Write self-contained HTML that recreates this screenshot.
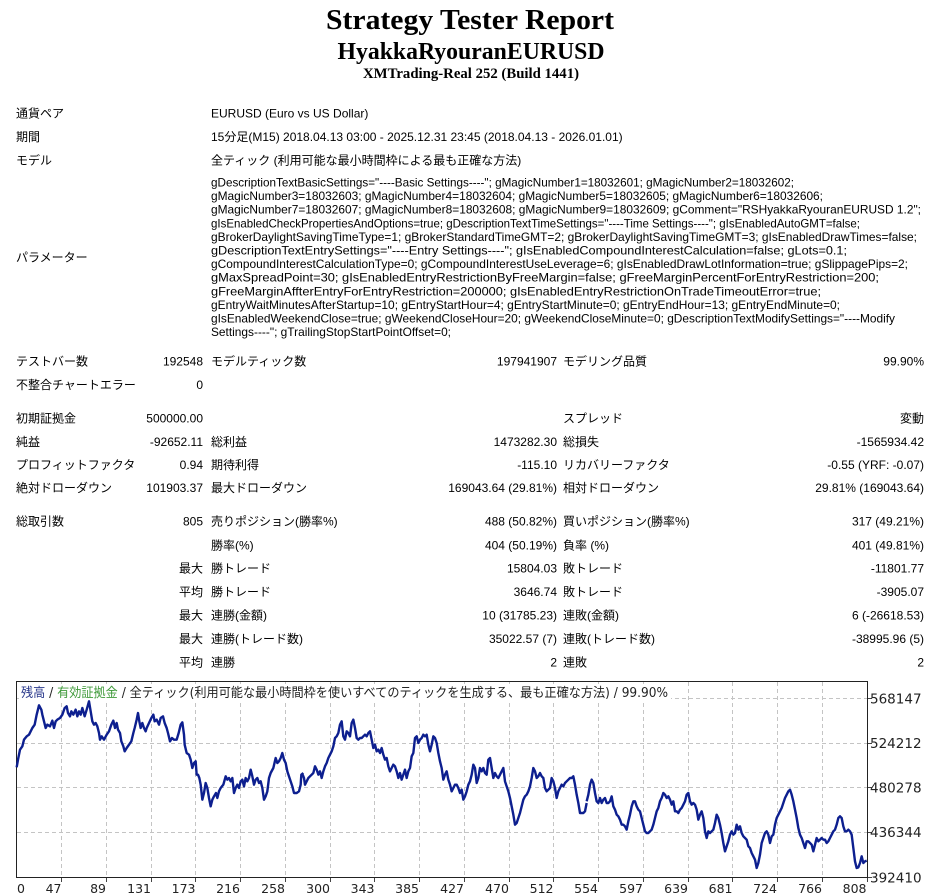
<!DOCTYPE html>
<html><head><meta charset="utf-8"><style>
html,body{margin:0;padding:0;background:#fff;}
svg{display:block;}
.t{font-family:"Liberation Sans","Noto Sans CJK JP",sans-serif;font-size:12px;fill:#000;}
.h{font-family:"Liberation Serif","Noto Serif CJK SC",serif;font-weight:bold;fill:#000;}
.c{font-family:"DejaVu Sans","Noto Sans CJK JP",sans-serif;fill:#222;}
</style></head><body>
<svg width="940" height="895" viewBox="0 0 940 895" xmlns="http://www.w3.org/2000/svg">
<rect x="0" y="0" width="940" height="895" fill="#fff"/>
<text class="h" x="470" y="29" font-size="29" text-anchor="middle" textLength="288" lengthAdjust="spacingAndGlyphs">Strategy Tester Report</text>
<text class="h" x="471" y="59" font-size="24" text-anchor="middle" textLength="267" lengthAdjust="spacingAndGlyphs">HyakkaRyouranEURUSD</text>
<text class="h" x="471" y="78" font-size="15" text-anchor="middle" textLength="216" lengthAdjust="spacingAndGlyphs">XMTrading-Real 252 (Build 1441)</text>

<g class="t">
<text x="16" y="117.5">通貨ペア</text><text x="211" y="117.5">EURUSD (Euro vs US Dollar)</text>
<text x="16" y="141">期間</text><text x="211" y="141">15分足(M15) 2018.04.13 03:00 - 2025.12.31 23:45 (2018.04.13 - 2026.01.01)</text>
<text x="16" y="164.5">モデル</text><text x="211" y="164.5">全ティック (利用可能な最小時間枠による最も正確な方法)</text>

<text x="16" y="261.5">パラメーター</text>
<text x="211" y="186.5" textLength="583" lengthAdjust="spacingAndGlyphs">gDescriptionTextBasicSettings="----Basic Settings----"; gMagicNumber1=18032601; gMagicNumber2=18032602;</text>
<text x="211" y="200.1" textLength="612" lengthAdjust="spacingAndGlyphs">gMagicNumber3=18032603; gMagicNumber4=18032604; gMagicNumber5=18032605; gMagicNumber6=18032606;</text>
<text x="211" y="213.7" textLength="710" lengthAdjust="spacingAndGlyphs">gMagicNumber7=18032607; gMagicNumber8=18032608; gMagicNumber9=18032609; gComment="RSHyakkaRyouranEURUSD 1.2";</text>
<text x="211" y="227.3" textLength="649" lengthAdjust="spacingAndGlyphs">gIsEnabledCheckPropertiesAndOptions=true; gDescriptionTextTimeSettings="----Time Settings----"; gIsEnabledAutoGMT=false;</text>
<text x="211" y="240.9" textLength="706" lengthAdjust="spacingAndGlyphs">gBrokerDaylightSavingTimeType=1; gBrokerStandardTimeGMT=2; gBrokerDaylightSavingTimeGMT=3; gIsEnabledDrawTimes=false;</text>
<text x="211" y="254.5" textLength="636" lengthAdjust="spacingAndGlyphs">gDescriptionTextEntrySettings="----Entry Settings----"; gIsEnabledCompoundInterestCalculation=false; gLots=0.1;</text>
<text x="211" y="268.1" textLength="697" lengthAdjust="spacingAndGlyphs">gCompoundInterestCalculationType=0; gCompoundInterestUseLeverage=6; gIsEnabledDrawLotInformation=true; gSlippagePips=2;</text>
<text x="211" y="281.7" textLength="668" lengthAdjust="spacingAndGlyphs">gMaxSpreadPoint=30; gIsEnabledEntryRestrictionByFreeMargin=false; gFreeMarginPercentForEntryRestriction=200;</text>
<text x="211" y="295.3" textLength="610" lengthAdjust="spacingAndGlyphs">gFreeMarginAffterEntryForEntryRestriction=200000; gIsEnabledEntryRestrictionOnTradeTimeoutError=true;</text>
<text x="211" y="308.9" textLength="629" lengthAdjust="spacingAndGlyphs">gEntryWaitMinutesAfterStartup=10; gEntryStartHour=4; gEntryStartMinute=0; gEntryEndHour=13; gEntryEndMinute=0;</text>
<text x="211" y="322.5" textLength="684" lengthAdjust="spacingAndGlyphs">gIsEnabledWeekendClose=true; gWeekendCloseHour=20; gWeekendCloseMinute=0; gDescriptionTextModifySettings="----Modify</text>
<text x="211" y="336.1" textLength="240" lengthAdjust="spacingAndGlyphs">Settings----"; gTrailingStopStartPointOffset=0;</text>

<text x="16" y="365.5">テストバー数</text><text x="203" y="365.5" text-anchor="end">192548</text>
<text x="211" y="365.5">モデルティック数</text><text x="557" y="365.5" text-anchor="end">197941907</text>
<text x="563" y="365.5">モデリング品質</text><text x="924" y="365.5" text-anchor="end">99.90%</text>

<text x="16" y="389">不整合チャートエラー</text><text x="203" y="389" text-anchor="end">0</text>

<text x="16" y="422.5">初期証拠金</text><text x="203" y="422.5" text-anchor="end">500000.00</text>
<text x="563" y="422.5">スプレッド</text><text x="924" y="422.5" text-anchor="end">変動</text>

<text x="16" y="446">純益</text><text x="203" y="446" text-anchor="end">-92652.11</text>
<text x="211" y="446">総利益</text><text x="557" y="446" text-anchor="end">1473282.30</text>
<text x="563" y="446">総損失</text><text x="924" y="446" text-anchor="end">-1565934.42</text>

<text x="16" y="469">プロフィットファクタ</text><text x="203" y="469" text-anchor="end">0.94</text>
<text x="211" y="469">期待利得</text><text x="557" y="469" text-anchor="end">-115.10</text>
<text x="563" y="469">リカバリーファクタ</text><text x="924" y="469" text-anchor="end">-0.55 (YRF: -0.07)</text>

<text x="16" y="492">絶対ドローダウン</text><text x="203" y="492" text-anchor="end">101903.37</text>
<text x="211" y="492">最大ドローダウン</text><text x="557" y="492" text-anchor="end">169043.64 (29.81%)</text>
<text x="563" y="492">相対ドローダウン</text><text x="924" y="492" text-anchor="end">29.81% (169043.64)</text>

<text x="16" y="525.5">総取引数</text><text x="203" y="525.5" text-anchor="end">805</text>
<text x="211" y="525.5">売りポジション(勝率%)</text><text x="557" y="525.5" text-anchor="end">488 (50.82%)</text>
<text x="563" y="525.5">買いポジション(勝率%)</text><text x="924" y="525.5" text-anchor="end">317 (49.21%)</text>

<text x="211" y="549.5">勝率(%)</text><text x="557" y="549.5" text-anchor="end">404 (50.19%)</text>
<text x="563" y="549.5">負率 (%)</text><text x="924" y="549.5" text-anchor="end">401 (49.81%)</text>

<text x="203" y="572.5" text-anchor="end">最大</text>
<text x="211" y="572.5">勝トレード</text><text x="557" y="572.5" text-anchor="end">15804.03</text>
<text x="563" y="572.5">敗トレード</text><text x="924" y="572.5" text-anchor="end">-11801.77</text>

<text x="203" y="596" text-anchor="end">平均</text>
<text x="211" y="596">勝トレード</text><text x="557" y="596" text-anchor="end">3646.74</text>
<text x="563" y="596">敗トレード</text><text x="924" y="596" text-anchor="end">-3905.07</text>

<text x="203" y="619.5" text-anchor="end">最大</text>
<text x="211" y="619.5">連勝(金額)</text><text x="557" y="619.5" text-anchor="end">10 (31785.23)</text>
<text x="563" y="619.5">連敗(金額)</text><text x="924" y="619.5" text-anchor="end">6 (-26618.53)</text>

<text x="203" y="643" text-anchor="end">最大</text>
<text x="211" y="643">連勝(トレード数)</text><text x="557" y="643" text-anchor="end">35022.57 (7)</text>
<text x="563" y="643">連敗(トレード数)</text><text x="924" y="643" text-anchor="end">-38995.96 (5)</text>

<text x="203" y="666.5" text-anchor="end">平均</text>
<text x="211" y="666.5">連勝</text><text x="557" y="666.5" text-anchor="end">2</text>
<text x="563" y="666.5">連敗</text><text x="924" y="666.5" text-anchor="end">2</text>
</g>

<!-- chart grid -->
<g stroke="#c4c4c4" stroke-width="1" stroke-dasharray="4,3" fill="none">
<path d="M61.5 682V877M106.5 682V877M151.5 682V877M195.5 682V877M240.5 682V877M285.5 682V877M330.5 682V877M374.5 682V877M419.5 682V877M464.5 682V877M509.5 682V877M553.5 682V877M598.5 682V877M643.5 682V877M688.5 682V877M732.5 682V877M777.5 682V877M822.5 682V877"/>
<path d="M17 698.5H867M17 743.5H867M17 787.5H867M17 832.5H867"/>
</g>
<rect x="19" y="684" width="652" height="17" fill="#fff"/>
<rect x="16.5" y="681.5" width="851" height="196" fill="none" stroke="#222" stroke-width="1"/>
<g stroke="#444" stroke-width="1">
<path d="M61.5 878V882M106.5 878V882M151.5 878V882M195.5 878V882M240.5 878V882M285.5 878V882M330.5 878V882M374.5 878V882M419.5 878V882M464.5 878V882M509.5 878V882M553.5 878V882M598.5 878V882M643.5 878V882M688.5 878V882M732.5 878V882M777.5 878V882M822.5 878V882M867.5 878V882"/>
<path d="M868 698.5H872M868 743.5H872M868 787.5H872M868 832.5H872M868 877.5H872"/>
</g>

<!-- chart header -->
<text class="c" x="21" y="697" font-size="13" textLength="647" lengthAdjust="spacingAndGlyphs"><tspan fill="#2b3a8c">残高</tspan><tspan fill="#222"> / </tspan><tspan fill="#3f9a3a">有効証拠金</tspan><tspan fill="#222"> / 全ティック(利用可能な最小時間枠を使いすべてのティックを生成する、最も正確な方法) / 99.90%</tspan></text>

<!-- y labels -->
<g class="c" font-size="13.5">
<text x="870" y="703.5">568147</text>
<text x="870" y="748">524212</text>
<text x="870" y="792.5">480278</text>
<text x="870" y="837">436344</text>
<text x="870" y="882.5">392410</text>
</g>
<!-- x labels -->
<g class="c" font-size="12.5" text-anchor="end">
<text x="25" y="893">0</text>
<text x="61.5" y="893">47</text>
<text x="106" y="893">89</text>
<text x="151" y="893">131</text>
<text x="195.5" y="893">173</text>
<text x="240" y="893">216</text>
<text x="285" y="893">258</text>
<text x="330" y="893">300</text>
<text x="374.5" y="893">343</text>
<text x="419" y="893">385</text>
<text x="464" y="893">427</text>
<text x="509" y="893">470</text>
<text x="553.5" y="893">512</text>
<text x="598" y="893">554</text>
<text x="643" y="893">597</text>
<text x="688" y="893">639</text>
<text x="732.5" y="893">681</text>
<text x="777" y="893">724</text>
<text x="822" y="893">766</text>
<text x="866.5" y="893">808</text>
</g>

<!-- balance line -->
<g fill="none" stroke="#0d1f8f" stroke-width="2.4" stroke-linejoin="round">
<polyline vector-effect="non-scaling-stroke" transform="translate(14,678) scale(0.333333)" points="8,268 12,245 18,215 25,205 30,185 38,175 45,170 55,150 62,140 68,110 75,82 82,95 85,110 90,130 95,150 100,140 108,145 115,128 120,150 125,130 130,125 138,120 145,110 152,90 158,85 162,105 168,115 172,100 178,110 185,95 190,115 195,100 200,110 205,90 212,115 218,95 225,70 230,100 235,130 240,140 245,135 250,145 255,165 258,185 263,175 270,185 278,170 285,160 292,140 298,128 303,150 308,135 312,155 318,165 322,190 328,205 332,220 338,210 345,200 352,190 358,165 362,150 368,125 372,105 376,130 380,150 385,135 390,150 395,160 398,150 405,135 412,120 418,110 422,130 428,125 435,140 440,120 447,115 452,135 458,150 462,165 468,190 474,180 480,185 488,185 494,165 500,140 505,133 510,170 512,200 518,225 525,230 530,245 535,270 540,255 545,250 548,290 552,290 556,300 560,320 565,365 570,345 575,315 580,330 585,360 590,385 595,365 600,355 606,345 610,360 615,340 620,330 628,320 635,295 640,305 645,300 650,310 655,300 660,345 665,330 670,320 675,330 680,310 685,305 690,325 695,300 700,310 705,300 710,275 715,295 720,320 725,305 730,300 735,315 740,310 745,330 750,365 755,355 760,340 765,300 770,285 778,270 785,240 790,255 795,250 800,240 805,225 810,245 815,255 820,280 825,295 830,310 835,325 840,345 848,345 855,340 860,320 862,290 868,285"/>
<polyline vector-effect="non-scaling-stroke" transform="translate(300,678) scale(0.333333)" points="8,290 12,300 15,320 20,310 25,300 30,295 35,290 40,285 45,265 50,275 55,290 60,280 65,300 70,280 75,265 80,255 85,240 90,230 95,220 100,205 105,180 110,175 115,165 120,140 125,130 130,175 135,185 140,160 145,165 150,175 155,135 160,125 165,150 170,180 175,185 180,180 185,180 190,175 195,170 200,175 205,165 210,160 215,185 220,210 225,200 230,220 235,215 240,225 245,210 250,230 255,245 260,240 265,265 270,280 275,270 280,260 285,265 290,280 295,300 300,285 305,305 310,290 315,275 320,300 325,280 330,270 335,235 340,225 345,180 350,175 355,195 360,185 365,180 370,170 375,175 380,170 385,200 390,220 395,200 400,175 405,180 410,195 415,225 420,250 425,270 430,305 435,290 440,280 445,305 450,320 455,340 460,330 465,320 470,320 475,330 480,345 485,335 490,365 495,355 500,340 505,320 510,310 515,290 520,260 525,270 530,315 535,300 540,270 545,280 550,270 555,285 560,290 565,245 570,240 575,270 580,300 585,285 590,295 595,300 600,290 605,280 610,270 615,310 620,325 625,340 630,360 635,385 640,410 645,440 650,435 655,420 660,405 665,385 670,365 675,355 680,350 685,340 690,325 695,300 700,270 705,280 710,300 715,295 720,285 725,295 730,300 735,330 740,340 745,335 750,330 755,300 760,310 765,330 770,360 775,340 780,330 785,320 790,325 795,315 800,310 805,305 810,300 815,300 820,295 825,320 830,350 835,375 840,405 845,405 850,405 855,400 860,375"/>
<polyline vector-effect="non-scaling-stroke" transform="translate(585,678) scale(0.333333)" points="5,370 10,350 15,320 20,305 25,315 30,345 35,370 40,375 45,360 50,375 55,365 60,360 65,375 70,375 75,370 80,355 85,385 90,395 95,410 100,415 105,425 110,440 115,440 120,445 125,455 130,430 135,410 140,385 145,370 150,370 155,385 160,395 165,400 170,420 175,440 180,460 185,465 190,465 195,460 200,455 205,440 210,420 215,400 220,390 225,370 230,360 235,345 240,350 245,360 250,355 255,365 260,380 265,370 270,400 275,400 280,405 285,395 290,390 295,380 300,370 305,350 310,345 315,370 320,380 325,375 330,380 335,395 340,425 345,410 350,400 355,420 360,460 365,480 370,460 375,465 380,460 385,455 390,435 395,410 400,420 405,440 410,465 415,495 420,520 425,505 430,490 435,470 440,460 445,470 450,465 455,440 460,455 465,445 470,465 475,475 480,480 485,485 490,505 495,510 500,525 505,535 510,545 515,570 520,555 525,530 530,495 535,480 540,465 545,460 550,470 555,495 560,475 565,470 570,440 575,420 580,410 585,400 590,390 595,375 600,360 605,350 610,340 615,335 620,350 625,370 630,395 635,420 640,450 645,470 650,480 655,495 660,510 665,490 670,490 675,495 680,500 685,520 690,500 695,480 700,490 705,485 710,480 715,485 720,485 725,495 730,490 735,480 740,470 745,460 750,455 755,440 760,420 765,415 770,420 775,445 780,460 785,460 790,455 795,460 800,470 805,510 810,550 815,570 820,568 825,555 830,535 835,555 840,550 845,548"/>
</g>
</svg>
</body></html>
